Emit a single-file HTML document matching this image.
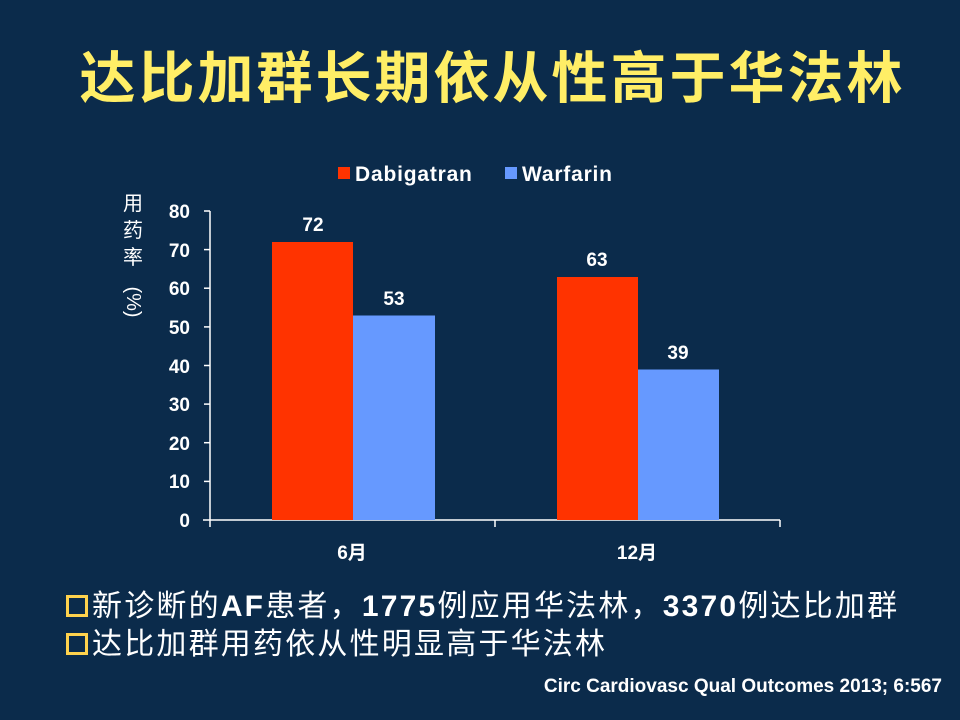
<!DOCTYPE html>
<html><head><meta charset="utf-8"><style>
body{margin:0;width:960px;height:720px;background:#0b2b4b;overflow:hidden;position:relative;font-family:"Liberation Sans","Noto Sans CJK SC",sans-serif;color:#fff}
.t{position:absolute;left:0;width:985px;top:34px;text-align:center;font-size:56px;font-weight:bold;color:#ffee66;letter-spacing:3px}
.b{position:absolute;left:66px;font-size:30px;letter-spacing:2.2px;white-space:nowrap;line-height:34px}
.b i{display:inline-block;width:16px;height:16px;border:3px solid #ffd24d;margin-right:4px;vertical-align:-1px}
.c{position:absolute;right:18px;top:676px;font-size:19px;font-weight:bold}
</style></head><body>
<div class="t">达比加群长期依从性高于华法林</div>
<svg width="960" height="720" style="position:absolute;left:0;top:0" font-family="Liberation Sans, Noto Sans CJK SC, sans-serif">
<g fill="#fff" font-weight="bold" font-size="19" text-anchor="end">
<text x="190" y="218">80</text><text x="190" y="257">70</text><text x="190" y="295">60</text><text x="190" y="334">50</text><text x="190" y="373">40</text><text x="190" y="411">30</text><text x="190" y="450">20</text><text x="190" y="488">10</text><text x="190" y="527">0</text>
</g>
<g stroke="#fff" stroke-width="1.5">
<line x1="210" y1="211" x2="210" y2="527"/>
<line x1="203" y1="520" x2="780" y2="520"/>
<line x1="204" y1="211" x2="210" y2="211"/><line x1="204" y1="249.6" x2="210" y2="249.6"/><line x1="204" y1="288.2" x2="210" y2="288.2"/><line x1="204" y1="326.9" x2="210" y2="326.9"/><line x1="204" y1="365.5" x2="210" y2="365.5"/><line x1="204" y1="404.1" x2="210" y2="404.1"/><line x1="204" y1="442.7" x2="210" y2="442.7"/><line x1="204" y1="481.4" x2="210" y2="481.4"/>
<line x1="495" y1="520" x2="495" y2="527"/><line x1="780" y1="520" x2="780" y2="527"/>
</g>
<rect x="272" y="242" width="81" height="278" fill="#ff3300"/>
<rect x="353" y="315.5" width="82" height="204.5" fill="#6699ff"/>
<rect x="557" y="277" width="81" height="243" fill="#ff3300"/>
<rect x="638" y="369.5" width="81" height="150.5" fill="#6699ff"/>
<g fill="#fff" font-weight="bold" font-size="19" text-anchor="middle">
<text x="313" y="231">72</text><text x="394" y="305">53</text><text x="597" y="266">63</text><text x="678" y="359">39</text>
<text x="352" y="559">6月</text><text x="637" y="559">12月</text>
</g>
<rect x="338" y="167" width="12" height="12" fill="#ff3300"/>
<text x="355" y="181" fill="#fff" font-size="21" font-weight="bold" letter-spacing="0.8">Dabigatran</text>
<rect x="505" y="167" width="12" height="12" fill="#6699ff"/>
<text x="522" y="181" fill="#fff" font-size="21" font-weight="bold" letter-spacing="0.8">Warfarin</text>
<g fill="#fff" font-size="20" text-anchor="middle">
<text x="133" y="210">用</text><text x="133" y="237">药</text><text x="133" y="264">率</text>
<text x="133" y="302" transform="rotate(90 133 302)" dy="6">(%)</text>
</g>
</svg>
<div class="b" style="top:590px"><i></i>新诊断的<b>AF</b>患者，<b>1775</b>例应用华法林，<b>3370</b>例达比加群</div>
<div class="b" style="top:628px"><i></i>达比加群用药依从性明显高于华法林</div>
<div class="c">Circ Cardiovasc Qual Outcomes 2013; 6:567</div>
</body></html>
